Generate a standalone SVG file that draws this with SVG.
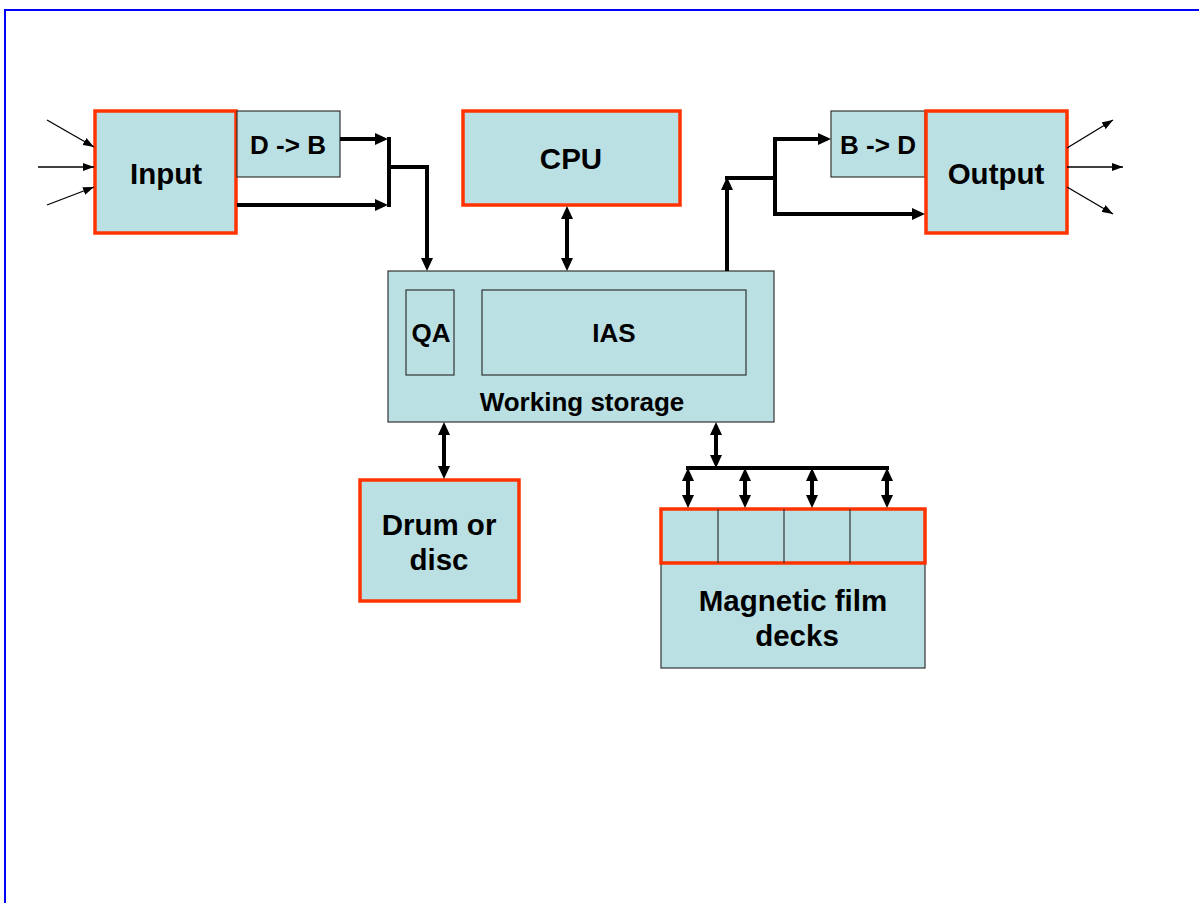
<svg xmlns="http://www.w3.org/2000/svg" width="1199" height="903" viewBox="0 0 1199 903">
<style>
.box{fill:#BBE0E3;stroke:#333;stroke-width:1.2}
.red{fill:#BBE0E3;stroke:#FF3300;stroke-width:3.5}
.t{font-family:"Liberation Sans",Arial,sans-serif;font-weight:bold;fill:#000;text-anchor:middle}
.big{font-size:29.5px}
.mid{font-size:26px}
.thick{fill:none;stroke:#000;stroke-width:4}
.thin{fill:none;stroke:#000;stroke-width:1.3}
</style>
<defs>
<marker id="ah" markerUnits="userSpaceOnUse" markerWidth="13" markerHeight="12" refX="6" refY="6" orient="auto-start-reverse">
<path d="M0,0 L13,6 L0,12 z" fill="#000"/>
</marker>
<marker id="at" markerUnits="userSpaceOnUse" markerWidth="11" markerHeight="8" refX="11" refY="4" orient="auto-start-reverse">
<path d="M0,0 L11,4 L0,8 z" fill="#000"/>
</marker>
</defs>
<rect width="1199" height="903" fill="#fff"/>
<path d="M5,903 V10 H1199" fill="none" stroke="#0000FF" stroke-width="2"/>

<g id="input">
<rect class="red" x="95" y="111" width="141" height="122"/>
<text class="t big" x="166" y="184">Input</text>
</g>
<g id="d2b">
<rect class="box" x="237" y="111" width="103" height="66"/>
<text class="t mid" x="288" y="154">D -&gt; B</text>
</g>
<g id="cpu">
<rect class="red" x="463" y="111" width="217" height="94"/>
<text class="t big" x="571" y="169">CPU</text>
</g>
<g id="b2d">
<rect class="box" x="831" y="111" width="94" height="66"/>
<text class="t mid" x="878" y="154">B -&gt; D</text>
</g>
<g id="output">
<rect class="red" x="926" y="111" width="141" height="122"/>
<text class="t big" x="996" y="184">Output</text>
</g>
<g id="working-storage">
<rect class="box" x="388" y="271" width="386" height="151"/>
<rect class="box" x="406" y="290" width="48" height="85"/>
<text class="t mid" x="431" y="342">QA</text>
<rect class="box" x="482" y="290" width="264" height="85"/>
<text class="t mid" x="614" y="342">IAS</text>
<text class="t mid" x="582" y="411">Working storage</text>
</g>
<g id="drum">
<rect class="red" x="360" y="480" width="159" height="121"/>
<text class="t big" x="439" y="535">Drum or</text>
<text class="t big" x="439" y="570">disc</text>
</g>
<g id="film-decks">
<rect class="box" x="661" y="563" width="264" height="105"/>
<text class="t big" x="793" y="611">Magnetic film</text>
<text class="t big" x="797" y="646">decks</text>
<rect class="red" x="661" y="509" width="264" height="54"/>
<path d="M718,509 V563 M784,509 V563 M850,509 V563" stroke="#333" stroke-width="1.2"/>
</g>

<g id="connectors">
<line class="thin" x1="47" y1="120" x2="94" y2="147" marker-end="url(#at)"/>
<line class="thin" x1="38" y1="167" x2="94" y2="167" marker-end="url(#at)"/>
<line class="thin" x1="47" y1="205" x2="94" y2="187" marker-end="url(#at)"/>
<line class="thin" x1="1067" y1="148" x2="1113" y2="120" marker-end="url(#at)"/>
<line class="thin" x1="1067" y1="167" x2="1123" y2="167" marker-end="url(#at)"/>
<line class="thin" x1="1067" y1="187" x2="1113" y2="214" marker-end="url(#at)"/>

<path class="thick" d="M340,139 H381" marker-end="url(#ah)"/>
<path class="thick" d="M237,205 H381" marker-end="url(#ah)"/>
<path class="thick" d="M389,137 V207"/>
<path class="thick" d="M389,167 H427 V264" marker-end="url(#ah)"/>

<path class="thick" d="M567,213 V264" marker-start="url(#ah)" marker-end="url(#ah)"/>

<path class="thick" d="M727,271 V184" marker-end="url(#ah)"/>
<path class="thick" d="M725,178 H775"/>
<path class="thick" d="M775,137 V216"/>
<path class="thick" d="M775,214 H918" marker-end="url(#ah)"/>
<path class="thick" d="M773,139 H824" marker-end="url(#ah)"/>

<path class="thick" d="M444,429 V472" marker-start="url(#ah)" marker-end="url(#ah)"/>
<path class="thick" d="M716,429 V461" marker-start="url(#ah)" marker-end="url(#ah)"/>
<path class="thick" d="M686,468 H889"/>
<path class="thick" d="M688,475 V501" marker-start="url(#ah)" marker-end="url(#ah)"/>
<path class="thick" d="M745,475 V501" marker-start="url(#ah)" marker-end="url(#ah)"/>
<path class="thick" d="M812,475 V501" marker-start="url(#ah)" marker-end="url(#ah)"/>
<path class="thick" d="M887,475 V501" marker-start="url(#ah)" marker-end="url(#ah)"/>
</g>
</svg>
